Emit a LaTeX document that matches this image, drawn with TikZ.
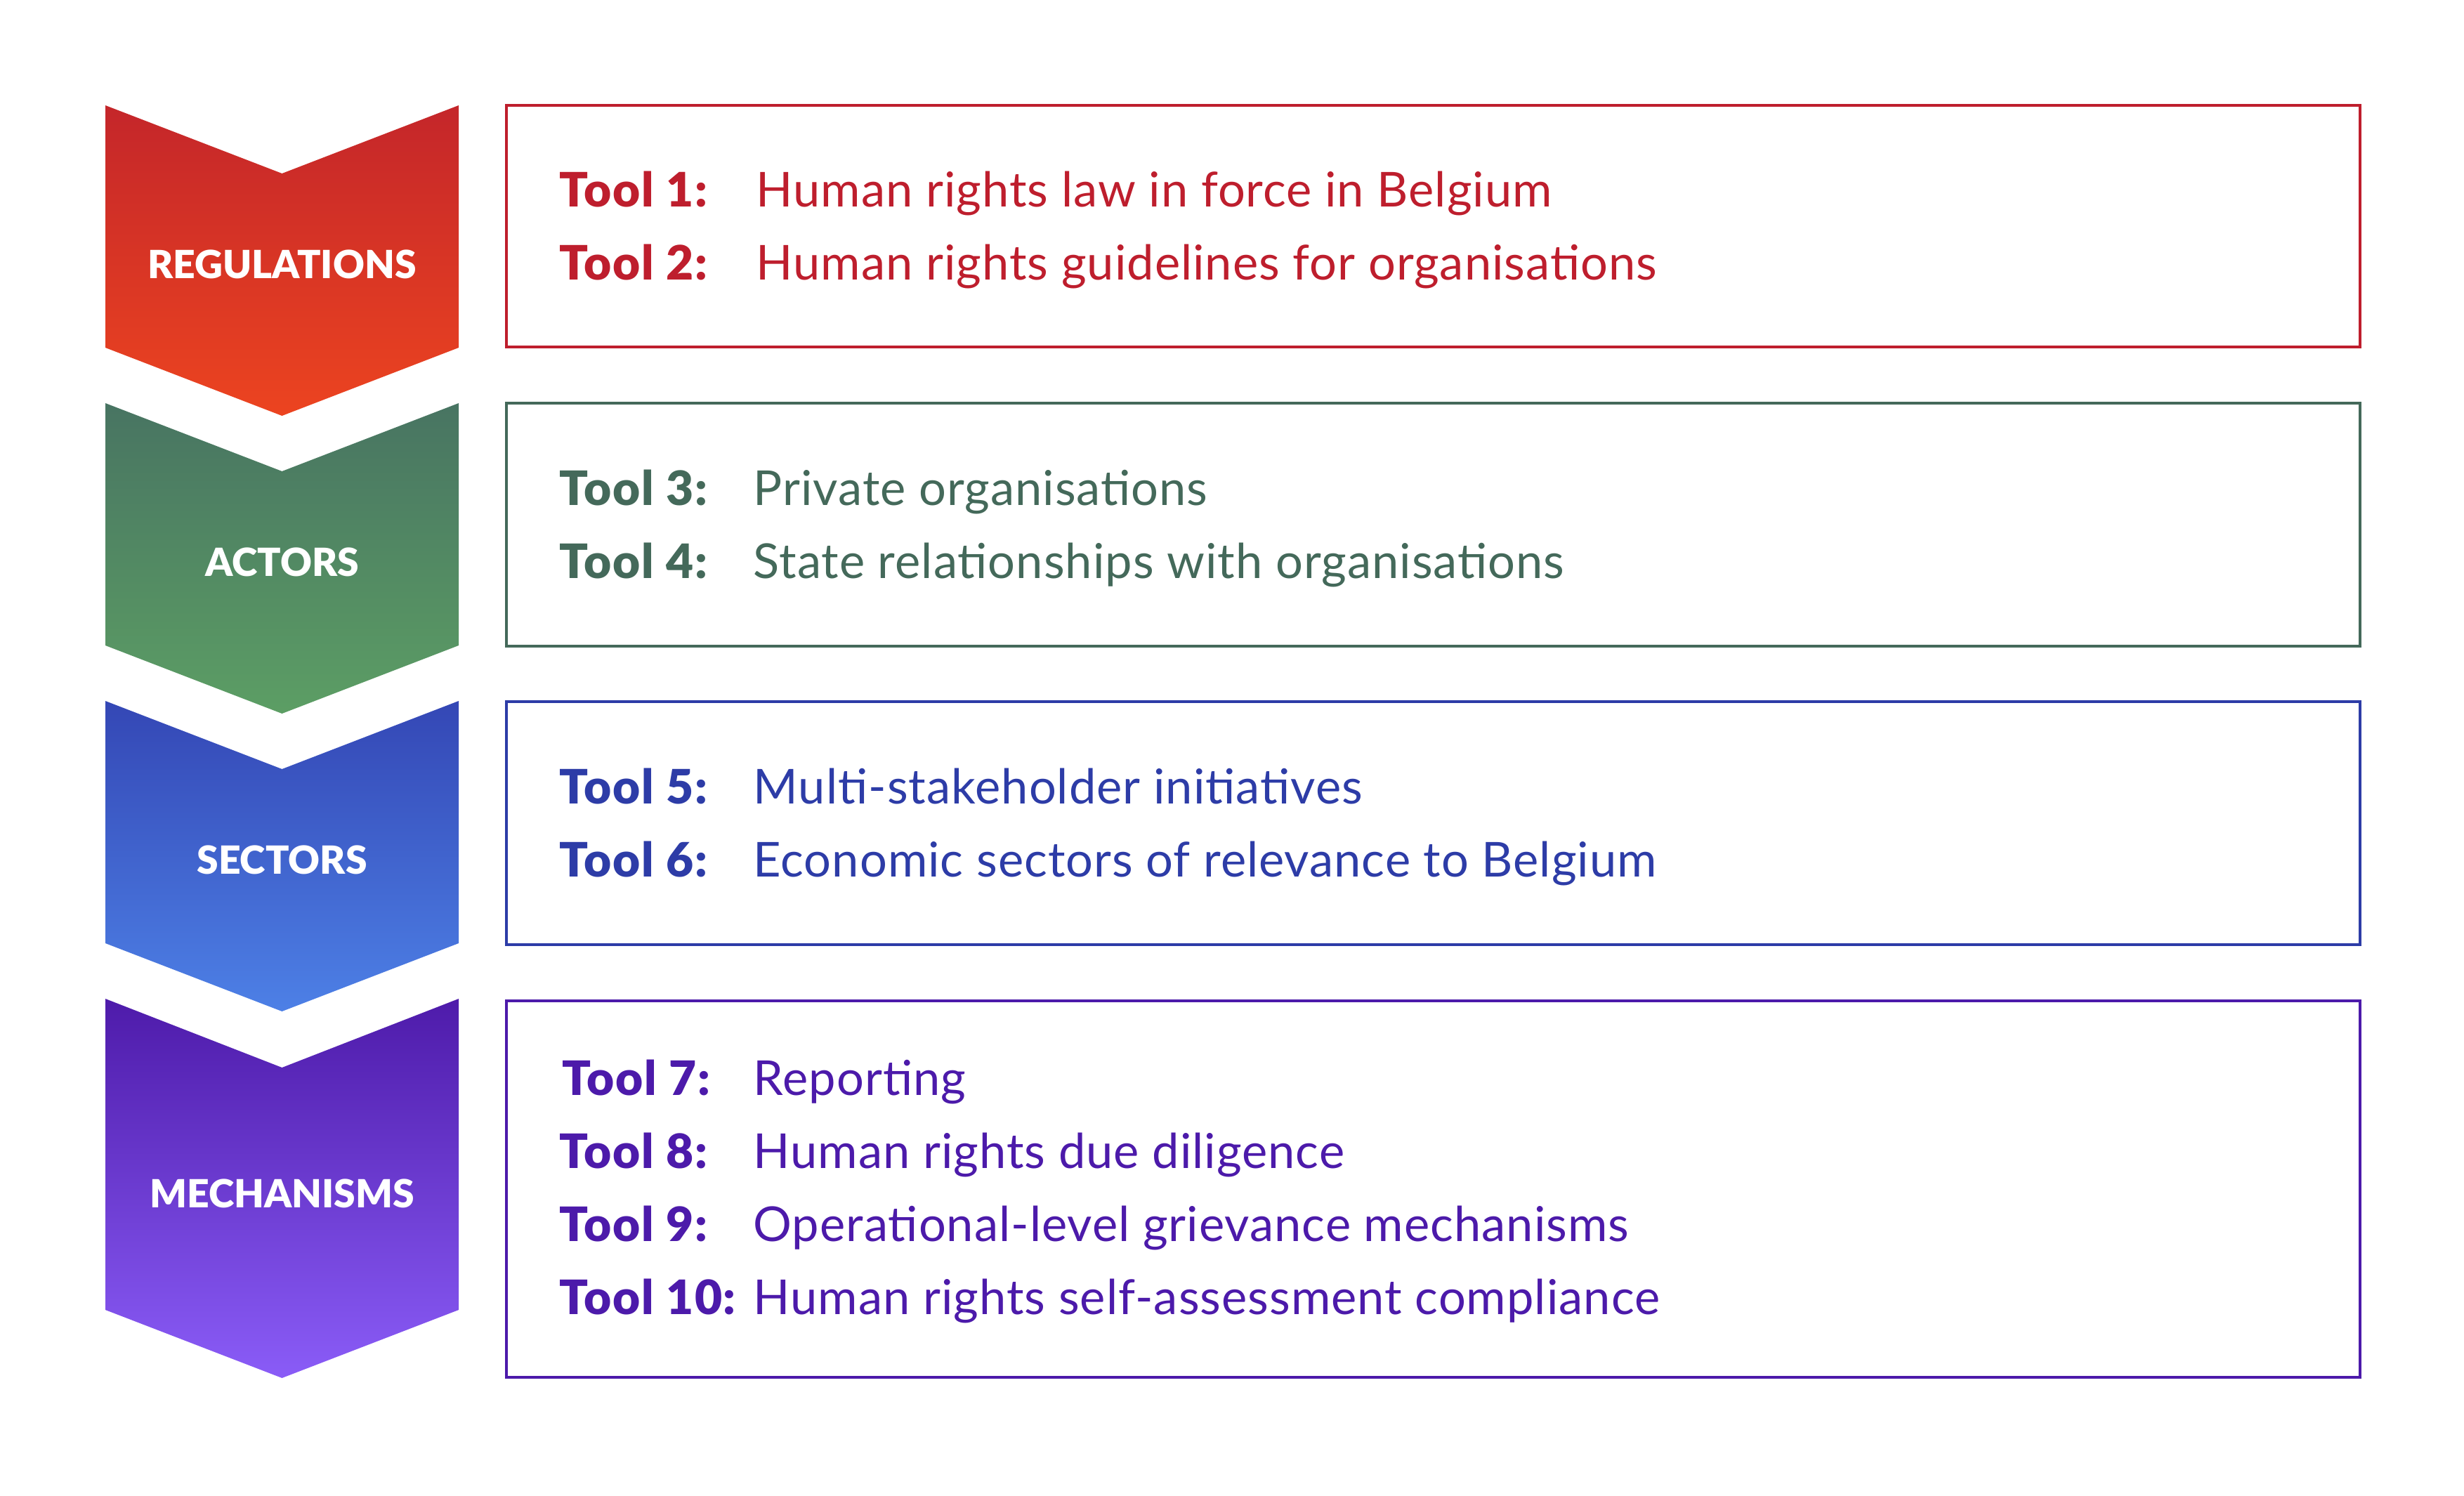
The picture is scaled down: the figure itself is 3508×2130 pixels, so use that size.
\documentclass[tikz,border=0pt]{standalone}
\usepackage{fontspec}
\setmainfont{Lato}[LetterSpace=1.5]
\newfontfamily\heavyfont{Lato Black}[LetterSpace=2.5]
\newfontfamily\labelfont{Lato Black}
\usepackage{tikz}
\usetikzlibrary{positioning}

\definecolor{regcol}{HTML}{BE1E2D}
\definecolor{regtop}{HTML}{C4262A}
\definecolor{regbot}{HTML}{EC4420}
\definecolor{actcol}{HTML}{44695A}
\definecolor{acttop}{HTML}{487462}
\definecolor{actbot}{HTML}{5C9E64}
\definecolor{seccol}{HTML}{2D3CA7}
\definecolor{sectop}{HTML}{3447B5}
\definecolor{secbot}{HTML}{4D80E6}
\definecolor{mechcol}{HTML}{4C1AAA}
\definecolor{mechtop}{HTML}{4E1BAA}
\definecolor{mechbot}{HTML}{8A5CF7}

\tikzset{
  toolbox/.style={line width=1.4pt},
  chevlabel/.style={text=white, font=\fontsize{15.7}{18}\selectfont\labelfont},
  toolno/.style={anchor=base west, inner sep=0pt, font=\fontsize{19.2}{22}\selectfont\heavyfont},
  tooltext/.style={anchor=base west, inner sep=0pt, font=\fontsize{19.5}{22}\selectfont}
}

\begin{document}
\begin{tikzpicture}[x=0.01cm, y=-0.01cm]
\useasboundingbox (0,0) rectangle (3508,2130);

% Regulations
\shade[top color=regtop, bottom color=regbot] (150,150) -- (401.5,247) -- (653,150) -- (653,495) -- (401.5,592) -- (150,495) -- cycle;
\node[chevlabel] (regulations) at (401.5,376) {REGULATIONS};
\draw[toolbox, regcol] (721,150) rectangle (3360,494);
\node[toolno, regcol] (tool1) at (796,294) {Tool 1:};
\node[tooltext, regcol] (law) at (1076,294) {Human rights law in force in Belgium};
\node[toolno, regcol] (tool2) at (796,398) {Tool 2:};
\node[tooltext, regcol] (guide) at (1076,398) {Human rights guidelines for organisations};

% Actors
\shade[top color=acttop, bottom color=actbot] (150,574) -- (401.5,671) -- (653,574) -- (653,919) -- (401.5,1016) -- (150,919) -- cycle;
\node[chevlabel] (actors) at (401.5,800) {ACTORS};
\draw[toolbox, actcol] (721,574) rectangle (3360,920);
\node[toolno, actcol] (tool3) at (796,719) {Tool 3:};
\node[tooltext, actcol] (private) at (1072,719) {Private organisations};
\node[toolno, actcol] (tool4) at (796,823) {Tool 4:};
\node[tooltext, actcol] (state) at (1072,823) {State relationships with organisations};

% Sectors
\shade[top color=sectop, bottom color=secbot] (150,998) -- (401.5,1095) -- (653,998) -- (653,1343) -- (401.5,1440) -- (150,1343) -- cycle;
\node[chevlabel] (sectors) at (401.5,1224) {SECTORS};
\draw[toolbox, seccol] (721,999) rectangle (3360,1345);
\node[toolno, seccol] (tool5) at (796,1144) {Tool 5:};
\node[tooltext, seccol] (multi) at (1072,1144) {Multi-stakeholder initiatives};
\node[toolno, seccol] (tool6) at (796,1248) {Tool 6:};
\node[tooltext, seccol] (econ) at (1072,1248) {Economic sectors of relevance to Belgium};

% Mechanisms
\shade[top color=mechtop, bottom color=mechbot] (150,1422) -- (401.5,1520) -- (653,1422) -- (653,1865) -- (401.5,1962) -- (150,1865) -- cycle;
\node[chevlabel] (mechanisms) at (401.5,1699) {MECHANISMS};
\draw[toolbox, mechcol] (721,1425) rectangle (3360,1961);
\node[toolno, mechcol] (tool7) at (800,1559) {Tool 7:};
\node[tooltext, mechcol] (report) at (1072,1559) {Reporting};
\node[toolno, mechcol] (tool8) at (796,1663) {Tool 8:};
\node[tooltext, mechcol] (diligence) at (1072,1663) {Human rights due diligence};
\node[toolno, mechcol] (tool9) at (796,1767) {Tool 9:};
\node[tooltext, mechcol] (grievance) at (1072,1767) {Operational-level grievance mechanisms};
\node[toolno, mechcol] (tool10) at (796,1871) {Tool 10:};
\node[tooltext, mechcol] (selfassess) at (1072,1871) {Human rights self-assessment compliance};

\end{tikzpicture}
\end{document}
